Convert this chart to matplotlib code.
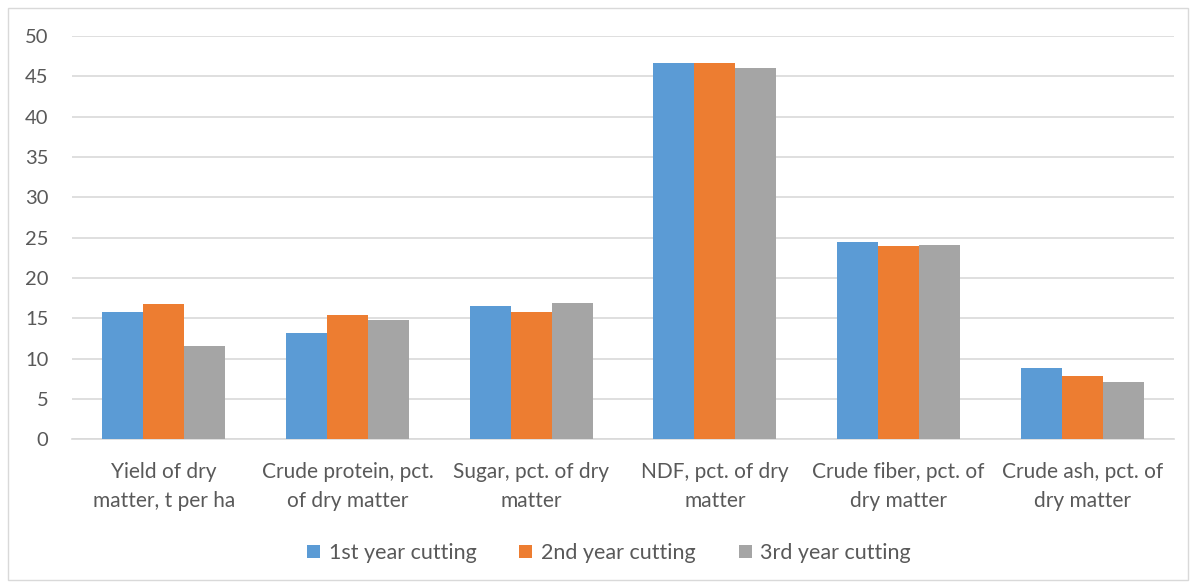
import matplotlib
matplotlib.use("Agg")
import matplotlib.pyplot as plt
import numpy as np
from matplotlib.patches import Rectangle

categories = ["Yield of dry\nmatter, t per ha", "Crude protein, pct.\nof dry matter",
              "Sugar, pct. of dry\nmatter", "NDF, pct. of dry\nmatter",
              "Crude fiber, pct. of\ndry matter", "Crude ash, pct. of\ndry matter"]
series_names = ["1st year cutting", "2nd year cutting", "3rd year cutting"]
first_year = [15.74, 13.2, 16.5, 46.6, 24.46, 8.84]
second_year = [16.73, 15.37, 15.74, 46.65, 23.92, 7.89]
third_year = [11.53, 14.83, 16.86, 46.07, 24.08, 7.1]
colors = ["#5B9BD5", "#ED7D31", "#A5A5A5"]
yticks = [0, 5, 10, 15, 20, 25, 30, 35, 40, 45, 50]

plt.rcParams['font.family'] = ['Lato', 'DejaVu Sans']

fig = plt.figure(figsize=(11.93, 5.88), dpi=100)
ax = fig.add_axes([72/1193, 1-439.3/588, (1174-72)/1193, (439.3-36)/588])

x = np.arange(len(categories))
w = 0.223
for i, (vals, name, c) in enumerate(zip([first_year, second_year, third_year], series_names, colors)):
    ax.bar(x + (i-1)*w, vals, width=w, color=c, label=name, zorder=3)

ax.set_xlim(-0.5, len(categories)-0.5)
ax.set_ylim(0, 50)
ax.set_yticks(yticks)
ax.yaxis.grid(True, color="#D9D9D9", linewidth=1.2, zorder=0)
ax.set_axisbelow(True)
for s in ["top", "right", "left"]:
    ax.spines[s].set_visible(False)
ax.spines["bottom"].set_color("#D9D9D9")
ax.spines["bottom"].set_linewidth(1.2)
ax.tick_params(axis="y", length=0, pad=17, labelsize=14.5, labelcolor="#595959")
ax.tick_params(axis="x", length=0, pad=16, labelsize=15, labelcolor="#595959")
ax.set_xticks(x)
ax.set_xticklabels(categories, linespacing=1.6)

leg = fig.legend(loc="center", bbox_to_anchor=(609/1193, 1-553/588), ncol=3, frameon=False,
                 fontsize=15.5, handlelength=0.6, handleheight=0.6, columnspacing=2.0,
                 handletextpad=0.4)
for t in leg.get_texts():
    t.set_color("#595959")

fig.patches.append(Rectangle((8/1193, 8/588), 1180/1193, 572/588, transform=fig.transFigure,
                             fill=False, edgecolor="#D9D9D9", linewidth=1))

fig.savefig("out.png", dpi=100)
